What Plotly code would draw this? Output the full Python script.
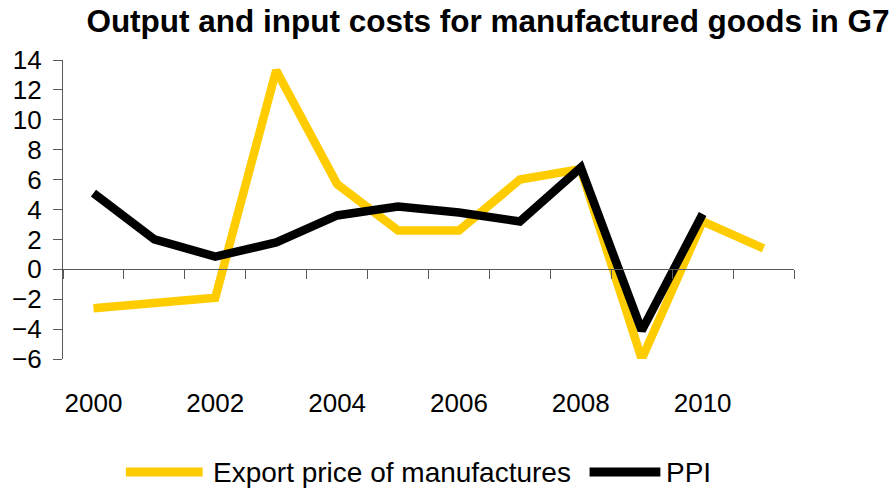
import plotly.graph_objects as go

# Annual percentage change, G7 manufactured goods
years = [2000, 2001, 2002, 2003, 2004, 2005, 2006, 2007, 2008, 2009, 2010, 2011]
export_price = [-2.6, -2.25, -1.9, 13.3, 5.7, 2.6, 2.6, 6.0, 6.7, -6.0, 3.2, 1.4]
ppi = [5.1, 2.0, 0.85, 1.8, 3.6, 4.2, 3.8, 3.2, 6.8, -4.1, 3.7, None]

series_names = ["Export price of manufactures", "PPI"]
year_labels = ["2000", "2002", "2004", "2006", "2008", "2010"]
label_years = [2000, 2002, 2004, 2006, 2008, 2010]
y_ticks = list(range(-6, 16, 2))

YELLOW = "#FFCC00"
BLACK = "#000000"
AXIS = "#595959"
FONT = "Arial, Liberation Sans, sans-serif"
W, H = 894, 493
PLOT_L, PLOT_R, PLOT_T, PLOT_B = 61, 794, 60, 359
PLOT_W, PLOT_H = PLOT_R - PLOT_L, PLOT_B - PLOT_T

fig = go.Figure()
fig.add_trace(go.Scatter(
    x=years, y=export_price, mode="lines", name=series_names[0],
    line=dict(color=YELLOW, width=8.5), xaxis="x", yaxis="y",
))
fig.add_trace(go.Scatter(
    x=years, y=ppi, mode="lines", name=series_names[1],
    line=dict(color=BLACK, width=8.5), xaxis="x", yaxis="y",
))
# empty trace so the year-label axis is rendered
fig.add_trace(go.Scatter(x=[years[0]], y=[None], xaxis="x2", yaxis="y",
                         showlegend=False, hoverinfo="skip"))

x_range = [years[0] - 0.5, years[-1] + 0.5]
boundaries = [years[0] - 0.5 + i for i in range(len(years) + 1)]
y_min, y_max = -6, 14
zero_pos = (0 - y_min) / (y_max - y_min)

# legend below the chart: a swatch line and a label per series (pixel positions)
legend_row = (PLOT_B - 472) / PLOT_H
legend_items = [
    (series_names[0], YELLOW, 124, 201, 209),
    (series_names[1], BLACK, 589, 660, 664),
]
shapes = []
annotations = []
for name, color, x0, x1, tx in legend_items:
    shapes.append(dict(
        type="line", xref="x domain", yref="y domain",
        x0=(x0 - PLOT_L) / PLOT_W, x1=(x1 - PLOT_L) / PLOT_W,
        y0=legend_row, y1=legend_row,
        line=dict(color=color, width=9),
    ))
    annotations.append(dict(
        text=name, xref="x domain", yref="y domain",
        x=(tx - PLOT_L) / PLOT_W, y=legend_row,
        xanchor="left", yanchor="middle", showarrow=False,
        font=dict(family=FONT, size=28, color="black"),
    ))

fig.update_layout(
    width=W, height=H,
    margin=dict(l=PLOT_L, r=W - PLOT_R, t=PLOT_T, b=H - PLOT_B),
    paper_bgcolor="white", plot_bgcolor="white",
    font=dict(family=FONT, color="black"),
    title=dict(
        text="<b>Output and input costs for manufactured goods in G7</b>",
        font=dict(family=FONT, size=31.5, color="black"),
        x=488 / W, xanchor="center", xref="container",
        y=1 - 21 / H, yanchor="middle",
    ),
    # category axis drawn along the zero line, ticks between years
    xaxis=dict(
        range=x_range, anchor="free", position=zero_pos, side="bottom",
        showline=True, linecolor=AXIS, linewidth=1.3,
        tickmode="array", tickvals=boundaries, ticks="outside",
        ticklen=9, tickwidth=1.3, tickcolor=AXIS,
        showticklabels=False, showgrid=False, zeroline=False,
    ),
    # year labels below the plot area
    xaxis2=dict(
        range=x_range, overlaying="x", anchor="y", side="bottom",
        tickmode="array", tickvals=label_years, ticktext=year_labels,
        ticks="", showline=False, showgrid=False, zeroline=False,
        tickfont=dict(family=FONT, size=26, color="black"),
        ticklabelstandoff=26,
    ),
    yaxis=dict(
        range=[y_min, y_max], tickmode="array", tickvals=y_ticks,
        showline=True, linecolor=AXIS, linewidth=1.3,
        ticks="outside", ticklen=9, tickwidth=1.3, tickcolor=AXIS,
        showgrid=False, zeroline=False,
        tickfont=dict(family=FONT, size=26, color="black"),
        ticklabelstandoff=6,
    ),
    showlegend=False,
    shapes=shapes,
    annotations=annotations,
)

fig.write_html("out.html")
